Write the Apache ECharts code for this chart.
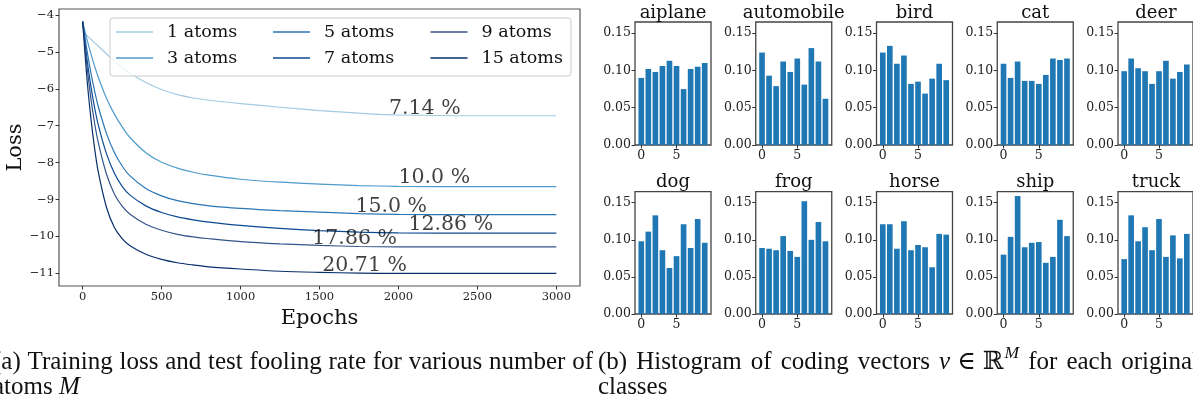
<!DOCTYPE html>
<html><head><meta charset="utf-8">
<script src="https://cdn.jsdelivr.net/npm/echarts@6/dist/echarts.min.js"></script>
<style>html,body{margin:0;padding:0;background:#fff}#c{width:1193px;height:402px}</style>
</head><body><div id="c"></div>
<script>
// ---------- data: training loss ----------
const epochs  = [0, 25, 50, 75, 100, 150, 200, 250, 300, 400, 500, 600, 700, 800, 1000, 1250, 1500, 1750, 2000, 2500, 3000];
const loss1   = [-4.45, -4.55, -4.65, -4.75, -4.85, -5.05, -5.25, -5.42, -5.58, -5.83, -6.02, -6.16, -6.25, -6.31, -6.40, -6.50, -6.59, -6.66, -6.71, -6.73, -6.73];
const loss3   = [-4.18, -4.62, -5.02, -5.38, -5.70, -6.25, -6.68, -7.03, -7.32, -7.73, -7.99, -8.15, -8.26, -8.34, -8.45, -8.53, -8.58, -8.62, -8.64, -8.65, -8.65];
const loss5   = [-4.18, -4.90, -5.52, -6.05, -6.50, -7.20, -7.72, -8.09, -8.36, -8.70, -8.90, -9.03, -9.11, -9.17, -9.24, -9.30, -9.34, -9.38, -9.40, -9.41, -9.41];
const loss7   = [-4.18, -5.12, -5.88, -6.50, -7.00, -7.75, -8.28, -8.64, -8.88, -9.17, -9.35, -9.47, -9.55, -9.61, -9.70, -9.78, -9.84, -9.88, -9.90, -9.91, -9.91];
const loss9   = [-4.18, -5.30, -6.20, -6.92, -7.48, -8.30, -8.84, -9.18, -9.40, -9.67, -9.83, -9.94, -10.01, -10.06, -10.14, -10.20, -10.24, -10.27, -10.28, -10.28, -10.28];
const loss15  = [-4.18, -5.62, -6.72, -7.60, -8.28, -9.20, -9.75, -10.06, -10.25, -10.48, -10.62, -10.71, -10.77, -10.82, -10.88, -10.94, -10.97, -10.99, -11.00, -11.00, -11.00];
const lossNames = ['1 atoms', '3 atoms', '5 atoms', '7 atoms', '9 atoms', '15 atoms'];
const xTicks = [0, 500, 1000, 1500, 2000, 2500, 3000];
const yTicks = [-11, -10, -9, -8, -7, -6, -5, -4];
// fooling-rate annotations (data coordinates)
const annEpoch = [1940, 2000, 1727, 2063, 1454, 1517];
const annLoss  = [-6.54, -8.42, -9.18, -9.69, -10.07, -10.78];
const annText  = ['7.14 %', '10.0 %', '15.0 %', '12.86 %', '17.86 %', '20.71 %'];

// ---------- data: histograms ----------
const histClasses = ['aiplane', 'automobile', 'bird', 'cat', 'deer', 'dog', 'frog', 'horse', 'ship', 'truck'];
const histAirplane   = [0.090, 0.102, 0.098, 0.106, 0.113, 0.106, 0.075, 0.102, 0.105, 0.110];
const histAutomobile = [0.124, 0.093, 0.079, 0.112, 0.098, 0.116, 0.081, 0.130, 0.112, 0.062];
const histBird       = [0.124, 0.133, 0.109, 0.120, 0.082, 0.085, 0.069, 0.089, 0.109, 0.087];
const histCat        = [0.109, 0.090, 0.112, 0.086, 0.086, 0.082, 0.094, 0.116, 0.114, 0.116];
const histDeer       = [0.099, 0.116, 0.103, 0.099, 0.082, 0.099, 0.113, 0.089, 0.098, 0.108];
const histDog        = [0.098, 0.111, 0.133, 0.086, 0.062, 0.078, 0.121, 0.089, 0.128, 0.096];
const histFrog       = [0.089, 0.088, 0.086, 0.105, 0.085, 0.077, 0.152, 0.100, 0.124, 0.098];
const histHorse      = [0.121, 0.121, 0.088, 0.125, 0.086, 0.093, 0.090, 0.063, 0.108, 0.107];
const histShip       = [0.080, 0.104, 0.159, 0.090, 0.096, 0.097, 0.069, 0.077, 0.127, 0.105];
const histTruck      = [0.074, 0.133, 0.098, 0.117, 0.086, 0.128, 0.077, 0.106, 0.075, 0.108];
const histXTicks = [0, 5];
const histYTicks = [0, 0.05, 0.10, 0.15];

// ---------- styles / layout ----------
const lossSeries = [loss1, loss3, loss5, loss7, loss9, loss15];
const lossColors = ['#a3cbe3', '#4f9bcb', '#2a76b6', '#0c4a92', '#34548a', '#08306b'];
const histSeries = [histAirplane, histAutomobile, histBird, histCat, histDeer, histDog, histFrog, histHorse, histShip, histTruck];
const SERIF = '"DejaVu Serif", serif';
const CAP = 'Liberation Serif';
const minus = v => (v < 0 ? '\u2212' + Math.abs(v) : String(v));

const grids = [{left: 59, top: 9, width: 521, height: 277, show: true, borderColor: '#555', borderWidth: 1.2, backgroundColor: 'transparent'}];
const xAxes = [{
  gridIndex: 0, type: 'value', min: -150, max: 3150,
  axisLine: {show: false, onZero: false}, splitLine: {show: false},
  axisTick: {show: true, customValues: xTicks, length: 3.5, lineStyle: {color: '#333'}},
  axisLabel: {customValues: xTicks, margin: 5, fontFamily: SERIF, fontSize: 11.5, color: '#222', formatter: v => String(v)},
  name: 'Epochs', nameLocation: 'middle', nameGap: 16,
  nameTextStyle: {fontFamily: SERIF, fontSize: 21, color: '#111'}
}];
const yAxes = [{
  gridIndex: 0, type: 'value', min: -11.34, max: -3.84,
  axisLine: {show: false, onZero: false}, splitLine: {show: false},
  axisTick: {show: true, customValues: yTicks, length: 3.5, lineStyle: {color: '#333'}},
  axisLabel: {customValues: yTicks, margin: 5, fontFamily: SERIF, fontSize: 11.5, color: '#222', formatter: minus},
  name: 'Loss', nameLocation: 'middle', nameGap: 28,
  nameTextStyle: {fontFamily: SERIF, fontSize: 21, color: '#111'}
}];
const series = [];
lossSeries.forEach((arr, k) => {
  series.push({
    type: 'line', name: lossNames[k], xAxisIndex: 0, yAxisIndex: 0,
    data: epochs.map((e, i) => [e, arr[i]]),
    showSymbol: false, smooth: 0.3,
    lineStyle: {width: 1.2, color: lossColors[k]}, itemStyle: {color: lossColors[k]},
    z: 2, silent: true
  });
});
series.push({
  type: 'scatter', xAxisIndex: 0, yAxisIndex: 0, symbolSize: 0.1,
  itemStyle: {color: 'transparent'}, z: 6, silent: true,
  data: annEpoch.map((e, i) => [e, annLoss[i], annText[i]]),
  label: {show: true, position: 'right', distance: 0, formatter: p => p.data[2],
          fontFamily: SERIF, fontSize: 20.5, color: '#111', align: 'left', verticalAlign: 'middle'}
});

const titles = [];
const colLeft = [635, 755.75, 876.5, 997.25, 1118];
histSeries.forEach((vals, i) => {
  const col = i % 5, row = Math.floor(i / 5);
  const left = colLeft[col], width = 76;
  const top = row === 0 ? 22 : 191.6, height = row === 0 ? 123 : 122.4;
  const gi = i + 1;
  grids.push({left, top, width, height, show: true, borderColor: '#444', borderWidth: 1.3, backgroundColor: 'transparent'});
  xAxes.push({
    gridIndex: gi, type: 'value', min: -0.89, max: 9.89,
    axisLine: {show: false, onZero: false}, splitLine: {show: false},
    axisTick: {show: true, customValues: histXTicks, length: 3.5, lineStyle: {color: '#333'}},
    axisLabel: {customValues: histXTicks, margin: 4, fontFamily: SERIF, fontSize: 12.5, color: '#222'}
  });
  yAxes.push({
    gridIndex: gi, type: 'value', min: 0, max: 0.165,
    axisLine: {show: false, onZero: false}, splitLine: {show: false},
    axisTick: {show: true, customValues: histYTicks, length: 3.5, lineStyle: {color: '#333'}},
    axisLabel: {customValues: histYTicks, margin: 4, fontFamily: SERIF, fontSize: 12.5, color: '#222', formatter: v => v.toFixed(2)}
  });
  series.push({
    type: 'bar', xAxisIndex: gi, yAxisIndex: gi,
    data: vals.map((v, j) => [j, v]),
    barWidth: 0.8 * width / 10.78, itemStyle: {color: '#1f77b4'}, silent: true
  });
  titles.push({
    text: histClasses[i], left: left + width / 2, textAlign: 'center',
    top: row === 0 ? 3 : 172, padding: 0,
    textStyle: {fontFamily: SERIF, fontSize: 18, fontWeight: 'normal', color: '#111', lineHeight: 20}
  });
});

// ---------- legend (3 columns, column-major like matplotlib) ----------
const legendCols = [[lossNames[0], lossNames[1]], [lossNames[2], lossNames[3]], [lossNames[4], lossNames[5]]];
const legendLeft = [116, 273, 430.5];
const legends = legendCols.map((d, c) => ({
  data: d, orient: 'vertical', left: legendLeft[c], top: 22, padding: 0,
  itemWidth: 37, itemHeight: 1.6, itemGap: 6, icon: 'rect', selectedMode: false, z: 6,
  textStyle: {fontFamily: SERIF, fontSize: 17.5, color: '#111', lineHeight: 20, padding: [0, 0, 0, 9]}
}));

// ---------- captions (justified lines) ----------
const mctx = document.createElement('canvas').getContext('2d');
const CAPSIZE = 25;
function pieceW(p) {
  const size = p.sup ? CAPSIZE * 0.7 : CAPSIZE;
  mctx.font = (p.italic ? 'italic ' : '') + size + 'px "' + (p.fam || CAP) + '"';
  return mctx.measureText(p.t).width;
}
function groupW(g) { return g.reduce((s, p) => s + pieceW(p) + (p.after || 0), 0); }
const graphics = [];
function justifyLine(groups, x0, x1, yc, justify) {
  const widths = groups.map(groupW);
  const total = widths.reduce((a, b) => a + b, 0);
  const gap = justify ? (x1 - x0 - total) / (groups.length - 1) : CAPSIZE * 0.25;
  let x = x0;
  groups.forEach((g, gi) => {
    let px = x;
    g.forEach(p => {
      const size = p.sup ? CAPSIZE * 0.7 : CAPSIZE;
      graphics.push({type: 'text', x: px, y: p.sup ? yc - 9 : yc, silent: true,
        style: {text: p.t, fontFamily: p.fam || CAP, fontSize: size, fontStyle: p.italic ? 'italic' : 'normal',
                fill: '#111', align: 'left', verticalAlign: 'middle'}});
      px += pieceW(p) + (p.after || 0);
    });
    x += widths[gi] + gap;
  });
}
const w = s => s.split(' ').map(t => [{t}]);
justifyLine(w('(a) Training loss and test fooling rate for various number of'), -7, 593, 362, true);
justifyLine([[{t: 'atoms'}], [{t: 'M', italic: true}]], -7, 593, 387, false);
justifyLine([...w('(b) Histogram of coding vectors'),
  [{t: 'v', italic: true, after: 7}, {t: '\u2208', fam: 'DejaVu Serif', after: 7}, {t: '\u211D', fam: 'DejaVu Serif', after: 1}, {t: 'M', italic: true, sup: true}],
  ...w('for each original')], 598, 1199, 362, true);
justifyLine([[{t: 'classes'}]], 598, 1199, 387, false);

// legend box
graphics.push({type: 'rect', shape: {x: 110, y: 18, width: 461, height: 58, r: 3}, z: 5, silent: true,
  style: {fill: 'rgba(255,255,255,0.8)', stroke: '#cccccc', lineWidth: 1}});

const chart = echarts.init(document.getElementById('c'), null, {renderer: 'canvas'});
chart.setOption({
  animation: false, backgroundColor: '#fff',
  title: titles, grid: grids, xAxis: xAxes, yAxis: yAxes, legend: legends,
  series, graphic: {elements: graphics}
});
</script></body></html>
